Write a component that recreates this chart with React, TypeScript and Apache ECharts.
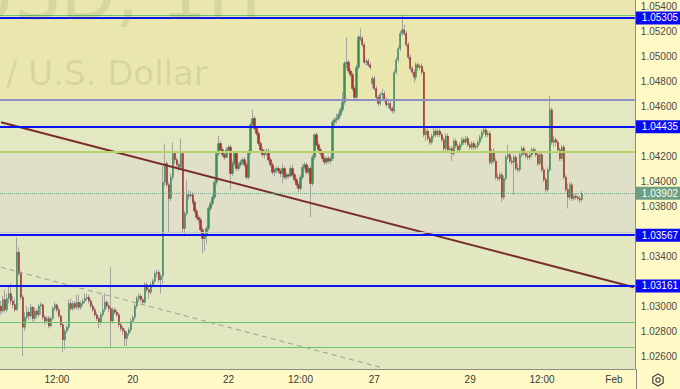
import React, { useEffect, useRef } from 'react';
import * as echarts from 'echarts';

// ---- axis ranges / ticks ----
const priceMin = 1.02496;
const priceMax = 1.05448;
const slotCount = 318;
const xTickIndex = [28, 66, 114, 150, 187, 235, 271, 307];
const xTickLabels = ['12:00', '20', '22', '12:00', '27', '29', '12:00', 'Feb'];
const yTickValues = [1.026, 1.028, 1.03, 1.032, 1.034, 1.036, 1.038, 1.04, 1.042, 1.044, 1.046, 1.048, 1.05, 1.052, 1.054];
// labels hidden behind the price tags in the reference are left out
const yLabelValues = [1.026, 1.028, 1.03, 1.034, 1.038, 1.04, 1.042, 1.046, 1.048, 1.05, 1.052, 1.054];

// ---- hourly candles [open, close, low, high] ----
const candlesJan16to20 = [
  [1.0300, 1.0296, 1.0293, 1.0304], [1.0296, 1.0305, 1.0294, 1.0308], [1.0305, 1.0297, 1.0295, 1.0313], [1.0297, 1.0306, 1.0295, 1.0310],
  [1.0306, 1.0310, 1.0302, 1.0316], [1.0310, 1.0304, 1.0301, 1.0318], [1.0304, 1.0301, 1.0298, 1.0308], [1.0301, 1.0297, 1.0295, 1.0306],
  [1.0297, 1.0343, 1.0296, 1.0355], [1.0343, 1.0326, 1.0324, 1.0347], [1.0326, 1.0307, 1.0305, 1.0328], [1.0307, 1.0283, 1.0260, 1.0309],
  [1.0283, 1.0291, 1.0280, 1.0295], [1.0291, 1.0295, 1.0288, 1.0300], [1.0295, 1.0292, 1.0289, 1.0298], [1.0292, 1.0299, 1.0290, 1.0302],
  [1.0299, 1.0290, 1.0287, 1.0300], [1.0290, 1.0296, 1.0288, 1.0299], [1.0296, 1.0293, 1.0290, 1.0298], [1.0293, 1.0300, 1.0291, 1.0302],
  [1.0300, 1.0301, 1.0293, 1.0303], [1.0301, 1.0291, 1.0289, 1.0302], [1.0291, 1.0288, 1.0285, 1.0293], [1.0288, 1.0290, 1.0286, 1.0292],
  [1.0290, 1.0284, 1.0282, 1.0292], [1.0284, 1.0290, 1.0283, 1.0292], [1.0290, 1.0298, 1.0289, 1.0300], [1.0298, 1.0301, 1.0296, 1.0303],
  [1.0301, 1.0297, 1.0295, 1.0302], [1.0297, 1.0292, 1.0290, 1.0299], [1.0292, 1.0285, 1.0283, 1.0293], [1.0285, 1.0273, 1.0263, 1.0287],
  [1.0273, 1.0280, 1.0265, 1.0282], [1.0280, 1.0283, 1.0278, 1.0285], [1.0283, 1.0302, 1.0281, 1.0305], [1.0302, 1.0298, 1.0296, 1.0306],
  [1.0298, 1.0302, 1.0296, 1.0304], [1.0302, 1.0299, 1.0297, 1.0304], [1.0299, 1.0303, 1.0297, 1.0309], [1.0303, 1.0299, 1.0297, 1.0309],
  [1.0299, 1.0302, 1.0297, 1.0304], [1.0302, 1.0304, 1.0300, 1.0306], [1.0304, 1.0306, 1.0302, 1.0310], [1.0306, 1.0307, 1.0304, 1.0310],
  [1.0307, 1.0304, 1.0302, 1.0309], [1.0304, 1.0300, 1.0298, 1.0306], [1.0300, 1.0297, 1.0295, 1.0302], [1.0297, 1.0293, 1.0291, 1.0299],
  [1.0293, 1.0290, 1.0288, 1.0295], [1.0290, 1.0287, 1.0282, 1.0292], [1.0287, 1.0293, 1.0285, 1.0295], [1.0293, 1.0297, 1.0291, 1.0309],
  [1.0297, 1.0303, 1.0295, 1.0310], [1.0303, 1.0300, 1.0298, 1.0305], [1.0300, 1.0298, 1.0295, 1.0302], [1.0298, 1.0288, 1.0267, 1.0331],
  [1.0288, 1.0297, 1.0286, 1.0299], [1.0297, 1.0295, 1.0293, 1.0299], [1.0295, 1.0293, 1.0291, 1.0297], [1.0293, 1.0285, 1.0283, 1.0295],
  [1.0285, 1.0282, 1.0280, 1.0287], [1.0282, 1.0280, 1.0277, 1.0284], [1.0280, 1.0274, 1.0268, 1.0282], [1.0274, 1.0278, 1.0268, 1.0280],
  [1.0278, 1.0281, 1.0276, 1.0283], [1.0281, 1.0288, 1.0279, 1.0290], [1.0288, 1.0291, 1.0286, 1.0293], [1.0291, 1.0300, 1.0289, 1.0302],
  [1.0300, 1.0306, 1.0298, 1.0308], [1.0306, 1.0308, 1.0303, 1.0310], [1.0308, 1.0305, 1.0303, 1.0310], [1.0305, 1.0303, 1.0301, 1.0307],
  [1.0303, 1.0317, 1.0302, 1.0319], [1.0317, 1.0313, 1.0311, 1.0319], [1.0313, 1.0311, 1.0306, 1.0315], [1.0311, 1.0317, 1.0309, 1.0319],
  [1.0317, 1.0320, 1.0315, 1.0322], [1.0320, 1.0326, 1.0318, 1.0328], [1.0326, 1.0327, 1.0323, 1.0329], [1.0327, 1.0321, 1.0319, 1.0329],
  [1.0321, 1.0324, 1.0310, 1.0326], [1.0324, 1.0399, 1.0318, 1.0412],
];

const candlesJan20to23 = [
  [1.0399, 1.0414, 1.0396, 1.0430], [1.0414, 1.0397, 1.0395, 1.0416], [1.0397, 1.0386, 1.0358, 1.0399], [1.0386, 1.0403, 1.0384, 1.0406],
  [1.0403, 1.0422, 1.0401, 1.0431], [1.0422, 1.0417, 1.0414, 1.0424], [1.0417, 1.0413, 1.0410, 1.0419], [1.0413, 1.0411, 1.0408, 1.0415],
  [1.0411, 1.0422, 1.0409, 1.0434], [1.0422, 1.0362, 1.0358, 1.0424], [1.0362, 1.0374, 1.0357, 1.0376], [1.0374, 1.0389, 1.0372, 1.0401],
  [1.0389, 1.0388, 1.0385, 1.0393], [1.0388, 1.0389, 1.0386, 1.0392], [1.0389, 1.0383, 1.0381, 1.0391], [1.0383, 1.0376, 1.0374, 1.0385],
  [1.0376, 1.0371, 1.0369, 1.0378], [1.0371, 1.0369, 1.0366, 1.0373], [1.0369, 1.0361, 1.0359, 1.0371], [1.0361, 1.0354, 1.0342, 1.0363],
  [1.0354, 1.0356, 1.0344, 1.0358], [1.0356, 1.0362, 1.0350, 1.0364], [1.0362, 1.0378, 1.0360, 1.0380], [1.0378, 1.0382, 1.0376, 1.0384],
  [1.0382, 1.0387, 1.0380, 1.0389], [1.0387, 1.0399, 1.0385, 1.0401], [1.0399, 1.0422, 1.0397, 1.0424], [1.0422, 1.0430, 1.0420, 1.0436],
  [1.0430, 1.0425, 1.0423, 1.0432], [1.0425, 1.0421, 1.0419, 1.0427], [1.0421, 1.0419, 1.0417, 1.0424], [1.0419, 1.0425, 1.0418, 1.0427],
  [1.0425, 1.0427, 1.0423, 1.0429], [1.0427, 1.0406, 1.0393, 1.0429], [1.0406, 1.0414, 1.0404, 1.0416], [1.0414, 1.0422, 1.0412, 1.0424],
  [1.0422, 1.0410, 1.0408, 1.0424], [1.0410, 1.0413, 1.0408, 1.0415], [1.0413, 1.0415, 1.0411, 1.0417], [1.0415, 1.0417, 1.0413, 1.0419],
  [1.0417, 1.0413, 1.0411, 1.0419], [1.0413, 1.0403, 1.0401, 1.0415], [1.0403, 1.0423, 1.0401, 1.0425], [1.0423, 1.0445, 1.0421, 1.0447],
  [1.0445, 1.0450, 1.0443, 1.0457], [1.0450, 1.0442, 1.0440, 1.0452], [1.0442, 1.0438, 1.0436, 1.0444], [1.0438, 1.0430, 1.0428, 1.0440],
  [1.0430, 1.0425, 1.0423, 1.0432], [1.0425, 1.0421, 1.0419, 1.0427], [1.0421, 1.0423, 1.0418, 1.0425], [1.0423, 1.0424, 1.0420, 1.0426],
  [1.0424, 1.0417, 1.0415, 1.0426], [1.0417, 1.0413, 1.0411, 1.0419], [1.0413, 1.0407, 1.0405, 1.0415], [1.0407, 1.0409, 1.0404, 1.0411],
  [1.0409, 1.0410, 1.0406, 1.0412], [1.0410, 1.0408, 1.0406, 1.0412], [1.0408, 1.0406, 1.0403, 1.0410], [1.0406, 1.0410, 1.0398, 1.0414],
  [1.0410, 1.0403, 1.0401, 1.0412], [1.0403, 1.0405, 1.0401, 1.0407], [1.0405, 1.0404, 1.0402, 1.0406], [1.0404, 1.0410, 1.0403, 1.0412],
  [1.0410, 1.0405, 1.0403, 1.0413], [1.0405, 1.0401, 1.0399, 1.0407], [1.0401, 1.0397, 1.0395, 1.0403], [1.0397, 1.0394, 1.0391, 1.0399],
  [1.0394, 1.0403, 1.0392, 1.0405], [1.0403, 1.0411, 1.0401, 1.0414], [1.0411, 1.0413, 1.0409, 1.0415], [1.0413, 1.0407, 1.0405, 1.0415],
  [1.0407, 1.0410, 1.0405, 1.0412], [1.0410, 1.0398, 1.0371, 1.0412], [1.0398, 1.0419, 1.0396, 1.0421], [1.0419, 1.0437, 1.0417, 1.0438],
  [1.0437, 1.0429, 1.0427, 1.0439], [1.0429, 1.0425, 1.0423, 1.0431], [1.0425, 1.0422, 1.0420, 1.0427], [1.0422, 1.0418, 1.0416, 1.0424],
  [1.0418, 1.0415, 1.0413, 1.0420], [1.0415, 1.0418, 1.0413, 1.0420],
];

const candlesJan23to28 = [
  [1.0418, 1.0416, 1.0414, 1.0420], [1.0416, 1.0418, 1.0414, 1.0420], [1.0418, 1.0447, 1.0416, 1.0449], [1.0447, 1.0449, 1.0444, 1.0451],
  [1.0449, 1.0450, 1.0446, 1.0454], [1.0450, 1.0453, 1.0448, 1.0455], [1.0453, 1.0457, 1.0451, 1.0459], [1.0457, 1.0463, 1.0455, 1.0471],
  [1.0463, 1.0494, 1.0461, 1.0496], [1.0494, 1.0495, 1.0490, 1.0515], [1.0495, 1.0488, 1.0486, 1.0497], [1.0488, 1.0485, 1.0483, 1.0490],
  [1.0485, 1.0474, 1.0472, 1.0487], [1.0474, 1.0467, 1.0465, 1.0476], [1.0467, 1.0491, 1.0465, 1.0493], [1.0491, 1.0515, 1.0489, 1.0517],
  [1.0515, 1.0514, 1.0512, 1.0522], [1.0514, 1.0509, 1.0507, 1.0516], [1.0509, 1.0495, 1.0493, 1.0511], [1.0495, 1.0496, 1.0492, 1.0498],
  [1.0496, 1.0493, 1.0491, 1.0498], [1.0493, 1.0491, 1.0489, 1.0495],
  [1.0478, 1.0482, 1.0474, 1.0484], [1.0482, 1.0474, 1.0472, 1.0484], [1.0474, 1.0467, 1.0465, 1.0476], [1.0467, 1.0462, 1.0460, 1.0469],
  [1.0462, 1.0469, 1.0460, 1.0471], [1.0469, 1.0470, 1.0466, 1.0474], [1.0470, 1.0465, 1.0463, 1.0472], [1.0465, 1.0461, 1.0459, 1.0467],
  [1.0461, 1.0462, 1.0458, 1.0464], [1.0462, 1.0458, 1.0456, 1.0464], [1.0458, 1.0456, 1.0454, 1.0460], [1.0456, 1.0487, 1.0454, 1.0489],
  [1.0487, 1.0497, 1.0485, 1.0499], [1.0497, 1.0506, 1.0495, 1.0508], [1.0506, 1.0518, 1.0504, 1.0520], [1.0518, 1.0521, 1.0516, 1.0533],
  [1.0521, 1.0518, 1.0516, 1.0525], [1.0518, 1.0509, 1.0507, 1.0520], [1.0509, 1.0499, 1.0497, 1.0511], [1.0499, 1.0490, 1.0488, 1.0501],
  [1.0490, 1.0487, 1.0485, 1.0492], [1.0487, 1.0483, 1.0479, 1.0489], [1.0483, 1.0493, 1.0481, 1.0495], [1.0493, 1.0491, 1.0488, 1.0495],
  [1.0491, 1.0492, 1.0489, 1.0494], [1.0492, 1.0487, 1.0485, 1.0494], [1.0487, 1.0437, 1.0435, 1.0489],
  [1.0437, 1.0440, 1.0432, 1.0443], [1.0440, 1.0434, 1.0432, 1.0442], [1.0434, 1.0431, 1.0429, 1.0436], [1.0431, 1.0436, 1.0429, 1.0438],
  [1.0436, 1.0440, 1.0434, 1.0444], [1.0440, 1.0437, 1.0435, 1.0442], [1.0437, 1.0440, 1.0435, 1.0442], [1.0440, 1.0437, 1.0435, 1.0442],
  [1.0437, 1.0433, 1.0431, 1.0439], [1.0433, 1.0426, 1.0424, 1.0435], [1.0426, 1.0436, 1.0424, 1.0438], [1.0436, 1.0425, 1.0423, 1.0438],
  [1.0425, 1.0426, 1.0422, 1.0428], [1.0426, 1.0422, 1.0416, 1.0428], [1.0422, 1.0432, 1.0420, 1.0434], [1.0432, 1.0428, 1.0426, 1.0434],
  [1.0428, 1.0425, 1.0423, 1.0430],
];

const candlesJan29to31 = [
  [1.0425, 1.0429, 1.0423, 1.0431], [1.0429, 1.0433, 1.0427, 1.0435], [1.0433, 1.0431, 1.0429, 1.0435], [1.0431, 1.0434, 1.0429, 1.0436],
  [1.0434, 1.0429, 1.0427, 1.0436], [1.0429, 1.0427, 1.0425, 1.0431], [1.0427, 1.0430, 1.0425, 1.0432], [1.0430, 1.0427, 1.0425, 1.0432],
  [1.0427, 1.0428, 1.0425, 1.0430], [1.0428, 1.0431, 1.0426, 1.0433], [1.0431, 1.0435, 1.0429, 1.0437], [1.0435, 1.0439, 1.0433, 1.0441],
  [1.0439, 1.0441, 1.0437, 1.0443], [1.0441, 1.0437, 1.0435, 1.0443], [1.0437, 1.0438, 1.0435, 1.0440], [1.0438, 1.0415, 1.0413, 1.0440],
  [1.0415, 1.0424, 1.0413, 1.0426], [1.0424, 1.0416, 1.0414, 1.0426], [1.0416, 1.0403, 1.0401, 1.0418], [1.0403, 1.0402, 1.0400, 1.0406],
  [1.0402, 1.0405, 1.0400, 1.0407], [1.0405, 1.0387, 1.0383, 1.0407], [1.0387, 1.0402, 1.0385, 1.0404], [1.0402, 1.0419, 1.0400, 1.0421],
  [1.0419, 1.0421, 1.0417, 1.0429], [1.0421, 1.0416, 1.0414, 1.0423], [1.0416, 1.0415, 1.0413, 1.0419], [1.0415, 1.0419, 1.0389, 1.0421],
  [1.0419, 1.0410, 1.0408, 1.0421], [1.0410, 1.0409, 1.0407, 1.0414], [1.0409, 1.0421, 1.0407, 1.0423], [1.0421, 1.0426, 1.0419, 1.0428],
  [1.0426, 1.0422, 1.0420, 1.0428], [1.0422, 1.0420, 1.0418, 1.0424], [1.0420, 1.0419, 1.0417, 1.0422], [1.0419, 1.0421, 1.0417, 1.0423],
  [1.0421, 1.0425, 1.0419, 1.0427], [1.0425, 1.0424, 1.0422, 1.0427], [1.0424, 1.0421, 1.0419, 1.0426], [1.0421, 1.0414, 1.0412, 1.0423],
  [1.0414, 1.0421, 1.0412, 1.0423], [1.0421, 1.0409, 1.0407, 1.0423], [1.0409, 1.0401, 1.0399, 1.0411], [1.0401, 1.0393, 1.0391, 1.0403],
  [1.0393, 1.0409, 1.0391, 1.0411], [1.0409, 1.0457, 1.0407, 1.0468], [1.0457, 1.0431, 1.0429, 1.0459], [1.0431, 1.0433, 1.0427, 1.0436],
  [1.0433, 1.0431, 1.0428, 1.0435], [1.0431, 1.0425, 1.0423, 1.0433], [1.0425, 1.0418, 1.0416, 1.0427], [1.0418, 1.0427, 1.0416, 1.0429],
  [1.0427, 1.0403, 1.0401, 1.0429], [1.0403, 1.0393, 1.0391, 1.0405], [1.0393, 1.0387, 1.0378, 1.0398], [1.0387, 1.0397, 1.0385, 1.0399],
  [1.0397, 1.0386, 1.0384, 1.0399], [1.0386, 1.0388, 1.0384, 1.0390], [1.0388, 1.0387, 1.0385, 1.0390], [1.0387, 1.0386, 1.0384, 1.0389],
  [1.0386, 1.0385, 1.0382, 1.0388], [1.0385, 1.0390, 1.0383, 1.0392],
];

// ---- horizontal levels ----
const tagLevels = [1.05305, 1.04435, 1.03567, 1.03161];
const lastPrice = 1.03902;
const greenThinLevels = [1.0533, 1.02872, 1.02672];
const purpleLevel = 1.04648;
const limeLevel = 1.04232;
const grayLevel = 1.03592;

// ---- background zones (upper, lower price) ----
const zoneEdges = [
  [1.05448, 1.04648],
  [1.04648, 1.04232],
  [1.04232, 1.03567],
  [1.03567, 1.02496],
];
const zoneColors = ['#e9e7ae', '#e3e7c2', '#e0dfc7', '#e2e7c1'];

// ---- trend lines [barIndex, price] ----
const brownTrend = [[0, 1.0447], [317, 1.0315]];
const dashedTrend = [[0, 1.0331], [190, 1.0251]];

const FONT = "'Liberation Sans Narrow', 'Liberation Sans', Arial, sans-serif";

export default function App() {
  const ref = useRef<HTMLDivElement>(null);
  useEffect(() => {
    if (!ref.current) return;
    const chart = echarts.init(ref.current, undefined, { renderer: 'svg' });
    const candles = [...candlesJan16to20, ...candlesJan20to23, ...candlesJan23to28, ...candlesJan29to31];
    const bodies = candles.map(([o, c]) => [o, c, Math.min(o, c), Math.max(o, c)]);
    const categories = Array.from({ length: slotCount }, (_, i) => 'b' + i);
    const labelMap: Record<number, string> = {};
    xTickIndex.forEach((idx, k) => { labelMap[idx] = xTickLabels[k]; });
    const isTick = (i: number) => labelMap[i] !== undefined;

    const gridLine = 'rgba(160,175,190,0.35)';
    const tagLabel = (bg: string) => ({
      show: true,
      position: 'end',
      distance: 1,
      color: '#ffffff',
      backgroundColor: bg,
      padding: [2, 6, 1, 6],
      fontSize: 10,
      fontFamily: FONT,
      formatter: (p: any) => Number(p.value).toFixed(5),
    });

    const markLines: any[] = [
      ...greenThinLevels.map((v) => ({ yAxis: v, lineStyle: { color: '#6cc46c', width: 1, type: 'solid' }, label: { show: false } })),
      { yAxis: purpleLevel, lineStyle: { color: '#8f8fc4', width: 2, type: 'solid' }, label: { show: false } },
      { yAxis: limeLevel, lineStyle: { color: '#b4d36a', width: 2, type: 'solid' }, label: { show: false } },
      { yAxis: grayLevel, lineStyle: { color: '#c4c8d0', width: 1, type: 'solid' }, label: { show: false } },
      { yAxis: lastPrice, lineStyle: { color: '#6fa889', width: 1, type: 'dotted' }, label: tagLabel('#6e9f83') },
      ...tagLevels.map((v) => ({ yAxis: v, lineStyle: { color: '#0a14f0', width: 2, type: 'solid' }, label: tagLabel('#0a0af5') })),
    ];

    const hexPts: number[][] = [];
    for (let k = 0; k < 6; k++) {
      const a = Math.PI / 6 + (k * Math.PI) / 3;
      hexPts.push([658 + 6 * Math.cos(a), 380 + 6 * Math.sin(a)]);
    }

    const watermark = 'rgba(90,90,40,0.12)';

    chart.setOption({
      animation: false,
      backgroundColor: '#fff9c6',
      grid: { left: 0, right: 44, top: 0, bottom: 20, containLabel: false },
      xAxis: {
        type: 'category',
        data: categories,
        boundaryGap: true,
        axisLine: { show: true, lineStyle: { color: '#8c8c84', width: 1 } },
        axisTick: { show: false },
        axisLabel: {
          interval: (i: number) => isTick(i),
          formatter: (_v: string, i: number) => labelMap[i] || '',
          color: '#3a3a3a',
          fontSize: 10,
          fontFamily: FONT,
          margin: 5,
        },
        splitLine: { show: true, interval: (i: number) => isTick(i), lineStyle: { color: gridLine, width: 1 } },
      },
      yAxis: {
        type: 'value',
        position: 'right',
        min: priceMin,
        max: priceMax,
        axisLine: { show: true, lineStyle: { color: '#8c8c84', width: 1 } },
        axisTick: { show: false, customValues: yTickValues },
        axisLabel: {
          customValues: yLabelValues,
          formatter: (v: number) => v.toFixed(5),
          color: '#4a4a4a',
          fontSize: 10,
          fontFamily: FONT,
          margin: 6,
        },
        splitLine: { show: true, lineStyle: { color: gridLine, width: 1 } },
      },
      graphic: [
        { type: 'text', x: -38, y: 30, silent: true, z: 10, style: { text: 'USD, 1H', font: "72px 'DejaVu Sans'", fill: watermark, verticalAlign: 'bottom' } },
        { type: 'text', x: 6, y: 90, silent: true, z: 10, style: { text: '/ U.S. Dollar', font: "34px 'DejaVu Sans'", fill: watermark, verticalAlign: 'bottom' } },
        { type: 'line', z: 10, shape: { x1: 636.5, y1: 369, x2: 636.5, y2: 389 }, style: { stroke: '#8c8c84', lineWidth: 1 } },
        { type: 'polygon', z: 10, shape: { points: hexPts }, style: { fill: 'none', stroke: '#444', lineWidth: 1.2 } },
        { type: 'circle', z: 10, shape: { cx: 658, cy: 380, r: 2.2 }, style: { fill: 'none', stroke: '#444', lineWidth: 1.2 } },
      ],
      series: [
        {
          name: 'wicks',
          type: 'candlestick',
          data: candles,
          barWidth: 1,
          z: 2,
          silent: true,
          itemStyle: { color: '#a4a49c', color0: '#a4a49c', borderColor: '#a4a49c', borderColor0: '#a4a49c', borderWidth: 1 },
          markArea: {
            silent: true,
            z: 1,
            precision: 5,
            data: zoneEdges.map(([hi, lo], k) => [
              { yAxis: hi, itemStyle: { color: zoneColors[k] } },
              { yAxis: lo },
            ]),
          },
        },
        {
          name: 'bodies',
          type: 'candlestick',
          data: bodies,
          barWidth: 1.8,
          z: 3,
          silent: true,
          itemStyle: { color: '#3d8d5c', color0: '#ad3329', borderColor: '#3d8d5c', borderColor0: '#9c2a22', borderWidth: 0.5 },
        },
        {
          name: 'trend',
          type: 'line',
          data: brownTrend,
          symbol: 'none',
          z: 4,
          silent: true,
          lineStyle: { color: '#7a2b2b', width: 2 },
        },
        {
          name: 'trend2',
          type: 'line',
          data: dashedTrend,
          symbol: 'none',
          z: 4,
          silent: true,
          lineStyle: { color: '#9c9c98', width: 1, type: [5, 4] },
        },
        {
          name: 'levels',
          type: 'line',
          data: [],
          z: 5,
          silent: true,
          markLine: { silent: true, precision: 5, symbol: ['none', 'none'], animation: false, data: markLines },
        },
      ],
    });
    return () => chart.dispose();
  }, []);
  return <div ref={ref} style={{ position: 'fixed', left: 0, top: 0, width: 680, height: 389 }} />;
}
